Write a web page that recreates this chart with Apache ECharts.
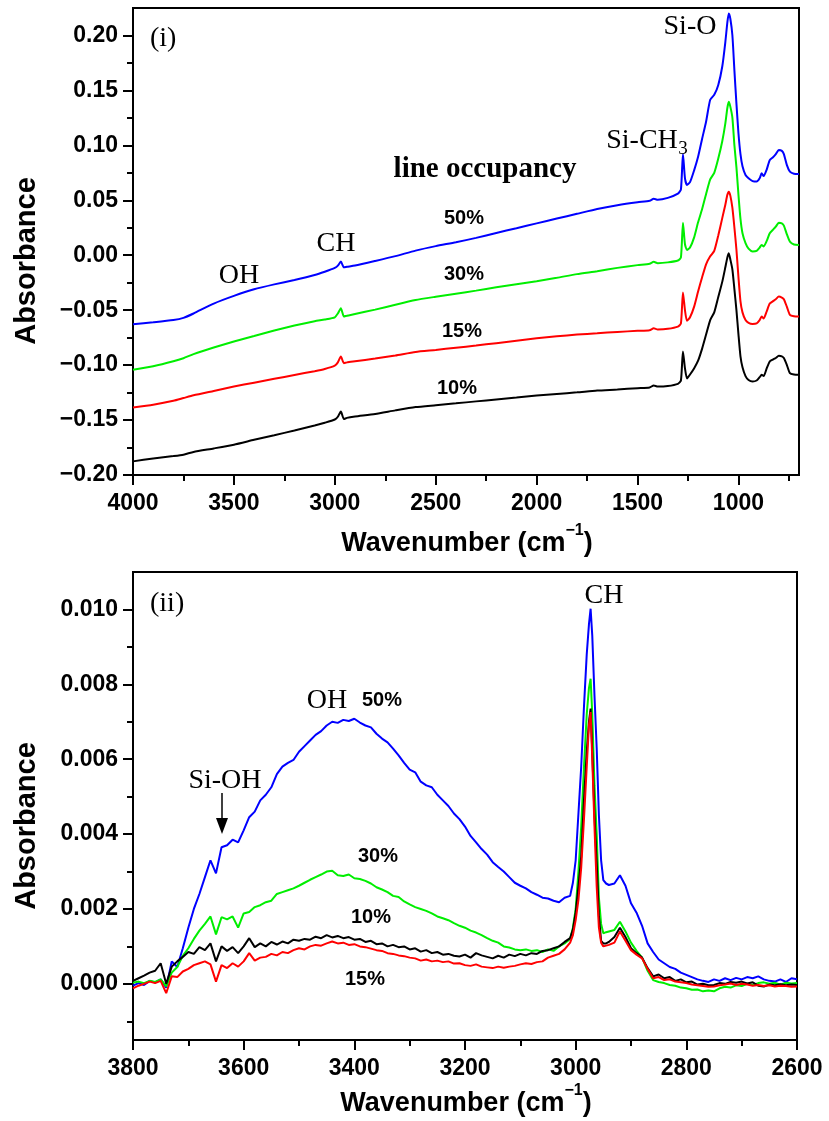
<!DOCTYPE html>
<html>
<head>
<meta charset="utf-8">
<script src="https://cdn.jsdelivr.net/npm/echarts@6/dist/echarts.min.js"></script>
<style>
  html, body { margin: 0; padding: 0; background: #ffffff; }
  #chart { width: 829px; height: 1121px; }
</style>
</head>
<body>
<div id="chart"></div>
<script>
// ---------- (i) full spectra, 4000-700 cm-1 ----------
const waveFull = [
  4000, 3900, 3800, 3750, 3700, 3600, 3500, 3400, 3300, 3200,
  3100, 3050, 3000, 2985, 2970, 2955, 2940, 2900, 2800, 2700,
  2600, 2500, 2400, 2300, 2200, 2100, 2000, 1900, 1800, 1700,
  1600, 1500, 1440, 1420, 1400, 1350, 1300, 1285, 1275, 1265,
  1255, 1240, 1220, 1200, 1180, 1160, 1140, 1120, 1100, 1080,
  1065, 1055, 1048, 1040, 1030, 1020, 1010, 1000, 990, 980,
  965, 950, 930, 910, 895, 885, 875, 860, 845, 830,
  815, 800, 785, 775, 760, 745, 725, 700
];
const full50 = [
  -0.0627, -0.0610, -0.0590, -0.0570, -0.0530, -0.0440, -0.0370, -0.0310, -0.0265, -0.0225,
  -0.0180, -0.0150, -0.0115, -0.0095, -0.0058, -0.0110, -0.0105, -0.0094, -0.0052, -0.0008,
  0.0042, 0.0083, 0.0118, 0.0158, 0.0203, 0.0246, 0.0290, 0.0334, 0.0377, 0.0421,
  0.0455, 0.0482, 0.0495, 0.0515, 0.0505, 0.0522, 0.0560, 0.0600, 0.0921, 0.0700,
  0.0640, 0.0665, 0.0770, 0.0896, 0.1060, 0.1220, 0.1415, 0.1460, 0.1550, 0.1720,
  0.1940, 0.2120, 0.2200, 0.2150, 0.2000, 0.1680, 0.1380, 0.1110, 0.0920, 0.0810,
  0.0730, 0.0700, 0.0675, 0.0670, 0.0700, 0.0745, 0.0720, 0.0780, 0.0866, 0.0890,
  0.0920, 0.0957, 0.0950, 0.0920, 0.0820, 0.0760, 0.0742, 0.0739
];
const full30 = [
  -0.1043, -0.1010, -0.0965, -0.0937, -0.0900, -0.0840, -0.0785, -0.0735, -0.0685, -0.0640,
  -0.0600, -0.0585, -0.0565, -0.0530, -0.0482, -0.0558, -0.0550, -0.0535, -0.0495, -0.0450,
  -0.0408, -0.0378, -0.0350, -0.0322, -0.0292, -0.0264, -0.0236, -0.0205, -0.0172, -0.0145,
  -0.0115, -0.0090, -0.0078, -0.0060, -0.0072, -0.0065, -0.0048, -0.0020, 0.0296, 0.0100,
  0.0048, 0.0070, 0.0160, 0.0300, 0.0420, 0.0560, 0.0690, 0.0750, 0.0880, 0.1040,
  0.1200, 0.1340, 0.1396, 0.1350, 0.1250, 0.1000, 0.0800, 0.0550, 0.0330, 0.0200,
  0.0110, 0.0060, 0.0035, 0.0040, 0.0070, 0.0094, 0.0080, 0.0130, 0.0200, 0.0230,
  0.0260, 0.0296, 0.0290, 0.0270, 0.0190, 0.0124, 0.0098, 0.0094
];
const full15 = [
  -0.1385, -0.1360, -0.1325, -0.1300, -0.1275, -0.1235, -0.1195, -0.1160, -0.1125, -0.1090,
  -0.1055, -0.1035, -0.1005, -0.0975, -0.0922, -0.0982, -0.0975, -0.0965, -0.0940, -0.0912,
  -0.0880, -0.0862, -0.0842, -0.0822, -0.0800, -0.0778, -0.0756, -0.0738, -0.0722, -0.0710,
  -0.0698, -0.0688, -0.0682, -0.0665, -0.0675, -0.0670, -0.0650, -0.0620, -0.0340, -0.0500,
  -0.0597, -0.0565, -0.0470, -0.0330, -0.0200, -0.0080, -0.0010, 0.0040, 0.0180, 0.0340,
  0.0460, 0.0550, 0.0578, 0.0540, 0.0430, 0.0250, 0.0050, -0.0200, -0.0420, -0.0520,
  -0.0590, -0.0615, -0.0625, -0.0620, -0.0590, -0.0558, -0.0575, -0.0510, -0.0440, -0.0420,
  -0.0400, -0.0376, -0.0385, -0.0400, -0.0470, -0.0543, -0.0555, -0.0558
];
const full10 = [
  -0.1876, -0.1850, -0.1828, -0.1815, -0.1790, -0.1758, -0.1724, -0.1680, -0.1638, -0.1595,
  -0.1550, -0.1525, -0.1495, -0.1470, -0.1422, -0.1491, -0.1480, -0.1468, -0.1445, -0.1412,
  -0.1382, -0.1365, -0.1348, -0.1330, -0.1312, -0.1295, -0.1277, -0.1262, -0.1248, -0.1232,
  -0.1222, -0.1210, -0.1203, -0.1185, -0.1195, -0.1190, -0.1170, -0.1140, -0.0876, -0.1030,
  -0.1121, -0.1085, -0.1030, -0.0960, -0.0850, -0.0720, -0.0590, -0.0520, -0.0380, -0.0240,
  -0.0110, -0.0020, 0.0018, -0.0040, -0.0130, -0.0310, -0.0500, -0.0720, -0.0920, -0.1020,
  -0.1100, -0.1135, -0.1149, -0.1140, -0.1110, -0.1088, -0.1100, -0.1030, -0.0967, -0.0950,
  -0.0935, -0.0915, -0.0920, -0.0936, -0.1000, -0.1073, -0.1085, -0.1088
];

// ---------- (ii) OH / CH region, 3800-2600 cm-1 ----------
const waveZoom = [
  3800, 3790, 3780, 3770, 3760, 3750, 3740, 3730, 3720, 3710,
  3700, 3690, 3680, 3670, 3660, 3650, 3640, 3630, 3620, 3610,
  3600, 3590, 3580, 3570, 3560, 3550, 3540, 3530, 3520, 3510,
  3500, 3490, 3480, 3470, 3460, 3450, 3440, 3430, 3420, 3410,
  3400, 3390, 3380, 3370, 3360, 3350, 3340, 3330, 3320, 3310,
  3300, 3290, 3280, 3270, 3260, 3250, 3240, 3230, 3220, 3210,
  3200, 3190, 3180, 3170, 3160, 3150, 3140, 3130, 3120, 3110,
  3100, 3090, 3080, 3070, 3060, 3050, 3040, 3030, 3020, 3010,
  3005, 3000, 2995, 2990, 2985, 2980, 2976, 2973, 2970, 2966,
  2962, 2958, 2954, 2950, 2945, 2940, 2930, 2920, 2910, 2900,
  2890, 2880, 2870, 2860, 2850, 2840, 2830, 2820, 2810, 2800,
  2790, 2780, 2770, 2760, 2750, 2740, 2730, 2720, 2710, 2700,
  2690, 2680, 2670, 2660, 2650, 2640, 2630, 2620, 2610, 2600
];
const zoom50 = [
  -0.00005, 0.00002, -0.00003, 0.00008, 0.00004, 0.00012, -0.00010, 0.00060, 0.00045, 0.00095,
  0.00150, 0.00200, 0.00240, 0.00285, 0.00330, 0.00295, 0.00365, 0.00370, 0.00385, 0.00378,
  0.00410, 0.00445, 0.00460, 0.00490, 0.00505, 0.00525, 0.00560, 0.00580, 0.00590, 0.00598,
  0.00620, 0.00635, 0.00650, 0.00665, 0.00675, 0.00690, 0.00700, 0.00697, 0.00705, 0.00702,
  0.00708, 0.00698, 0.00690, 0.00685, 0.00668, 0.00655, 0.00645, 0.00628, 0.00610, 0.00590,
  0.00572, 0.00565, 0.00540, 0.00530, 0.00525, 0.00505, 0.00490, 0.00475, 0.00455, 0.00440,
  0.00420, 0.00395, 0.00378, 0.00360, 0.00345, 0.00325, 0.00312, 0.00300, 0.00285, 0.00270,
  0.00262, 0.00255, 0.00245, 0.00238, 0.00230, 0.00228, 0.00222, 0.00218, 0.00230, 0.00235,
  0.00270, 0.00330, 0.00455, 0.00580, 0.00740, 0.00880, 0.00960, 0.01002, 0.00930, 0.00770,
  0.00630, 0.00450, 0.00330, 0.00277, 0.00268, 0.00264, 0.00268, 0.00290, 0.00262, 0.00215,
  0.00190, 0.00155, 0.00108, 0.00085, 0.00065, 0.00055, 0.00045, 0.00040, 0.00030, 0.00024,
  0.00018, 0.00012, 0.00008, 0.00005, 0.00012, 0.00008, 0.00015, 0.00010, 0.00016, 0.00012,
  0.00018, 0.00015, 0.00020, 0.00012, 0.00008, 0.00006, 0.00012, 0.00005, 0.00015, 0.00012
];
const zoom30 = [
  0.00003, 0.00006, 0.00002, 0.00008, 0.00005, 0.00012, -0.00007, 0.00030, 0.00045, 0.00075,
  0.00095, 0.00120, 0.00142, 0.00160, 0.00180, 0.00132, 0.00178, 0.00172, 0.00180, 0.00150,
  0.00188, 0.00192, 0.00205, 0.00210, 0.00218, 0.00222, 0.00240, 0.00245, 0.00250, 0.00255,
  0.00262, 0.00270, 0.00278, 0.00285, 0.00292, 0.00300, 0.00302, 0.00290, 0.00288, 0.00292,
  0.00282, 0.00280, 0.00275, 0.00268, 0.00258, 0.00252, 0.00245, 0.00235, 0.00232, 0.00220,
  0.00212, 0.00205, 0.00200, 0.00195, 0.00188, 0.00180, 0.00175, 0.00170, 0.00162, 0.00155,
  0.00150, 0.00142, 0.00137, 0.00130, 0.00122, 0.00115, 0.00110, 0.00100, 0.00097, 0.00092,
  0.00090, 0.00092, 0.00088, 0.00090, 0.00085, 0.00092, 0.00088, 0.00100, 0.00108, 0.00120,
  0.00150, 0.00200, 0.00300, 0.00420, 0.00580, 0.00720, 0.00790, 0.00815, 0.00720, 0.00530,
  0.00400, 0.00230, 0.00160, 0.00135, 0.00138, 0.00140, 0.00144, 0.00166, 0.00140, 0.00110,
  0.00088, 0.00070, 0.00035, 0.00010, 0.00005, 0.00002, -0.00003, -0.00005, -0.00010, -0.00012,
  -0.00016, -0.00015, -0.00020, -0.00018, -0.00020, -0.00012, -0.00008, -0.00010, -0.00004, -0.00006,
  0.00000, -0.00003, 0.00002, 0.00004, 0.00000, 0.00003, -0.00002, 0.00003, 0.00001, 0.00002
];
const zoom10 = [
  0.00008, 0.00015, 0.00022, 0.00030, 0.00035, 0.00055, 0.00000, 0.00046, 0.00060, 0.00072,
  0.00085, 0.00080, 0.00098, 0.00090, 0.00108, 0.00060, 0.00100, 0.00088, 0.00098, 0.00082,
  0.00100, 0.00122, 0.00098, 0.00108, 0.00100, 0.00112, 0.00105, 0.00113, 0.00108, 0.00118,
  0.00115, 0.00120, 0.00118, 0.00126, 0.00122, 0.00130, 0.00124, 0.00128, 0.00122, 0.00125,
  0.00118, 0.00120, 0.00112, 0.00115, 0.00106, 0.00108, 0.00100, 0.00104, 0.00098, 0.00100,
  0.00092, 0.00095, 0.00086, 0.00090, 0.00082, 0.00085, 0.00078, 0.00080, 0.00075, 0.00073,
  0.00078, 0.00070, 0.00082, 0.00076, 0.00072, 0.00068, 0.00075, 0.00070, 0.00078, 0.00074,
  0.00080, 0.00076, 0.00082, 0.00080, 0.00088, 0.00090, 0.00095, 0.00100, 0.00112, 0.00122,
  0.00145, 0.00190, 0.00260, 0.00340, 0.00490, 0.00620, 0.00700, 0.00735, 0.00620, 0.00450,
  0.00322, 0.00180, 0.00115, 0.00108, 0.00108, 0.00112, 0.00125, 0.00150, 0.00125, 0.00095,
  0.00082, 0.00070, 0.00042, 0.00020, 0.00025, 0.00015, 0.00018, 0.00008, 0.00012, 0.00004,
  0.00006, -0.00002, 0.00000, -0.00004, -0.00003, 0.00002, 0.00000, 0.00005, 0.00003, 0.00006,
  0.00001, 0.00004, -0.00005, -0.00007, -0.00002, -0.00004, -0.00001, -0.00004, -0.00002, -0.00003
];
const zoom15 = [
  -0.00012, -0.00005, 0.00000, 0.00006, 0.00002, 0.00008, -0.00025, 0.00020, 0.00018, 0.00033,
  0.00040, 0.00050, 0.00055, 0.00060, 0.00052, 0.00006, 0.00050, 0.00042, 0.00055, 0.00046,
  0.00060, 0.00082, 0.00062, 0.00070, 0.00072, 0.00080, 0.00076, 0.00085, 0.00082, 0.00090,
  0.00095, 0.00092, 0.00100, 0.00104, 0.00102, 0.00108, 0.00113, 0.00108, 0.00110, 0.00104,
  0.00106, 0.00100, 0.00098, 0.00094, 0.00090, 0.00088, 0.00082, 0.00080, 0.00076, 0.00074,
  0.00070, 0.00068, 0.00062, 0.00065, 0.00060, 0.00062, 0.00058, 0.00060, 0.00054, 0.00055,
  0.00050, 0.00048, 0.00052, 0.00046, 0.00044, 0.00042, 0.00046, 0.00043, 0.00046, 0.00048,
  0.00052, 0.00055, 0.00053, 0.00058, 0.00060, 0.00070, 0.00075, 0.00080, 0.00092, 0.00110,
  0.00130, 0.00170, 0.00224, 0.00310, 0.00440, 0.00580, 0.00690, 0.00726, 0.00600, 0.00420,
  0.00260, 0.00150, 0.00110, 0.00100, 0.00102, 0.00104, 0.00110, 0.00140, 0.00115, 0.00090,
  0.00078, 0.00068, 0.00040, 0.00015, 0.00018, 0.00010, 0.00012, 0.00006, 0.00004, 0.00002,
  -0.00002, -0.00004, -0.00006, -0.00008, -0.00007, -0.00004, -0.00002, 0.00001, -0.00003, 0.00000,
  -0.00002, -0.00005, -0.00003, -0.00006, -0.00004, -0.00007, -0.00005, -0.00006, -0.00008, -0.00007
];

// ---------- tick positions ----------
const fullXMajor = [4000, 3500, 3000, 2500, 2000, 1500, 1000];
const fullXMinor = [3750, 3250, 2750, 2250, 1750, 1250, 750];
const fullYMajor = [-0.20, -0.15, -0.10, -0.05, 0.00, 0.05, 0.10, 0.15, 0.20];
const fullYMinor = [-0.175, -0.125, -0.075, -0.025, 0.025, 0.075, 0.125, 0.175];
const zoomXMajor = [3800, 3600, 3400, 3200, 3000, 2800, 2600];
const zoomXMinor = [3700, 3500, 3300, 3100, 2900, 2700];
const zoomYMajor = [0.000, 0.002, 0.004, 0.006, 0.008, 0.010];
const zoomYMinor = [-0.001, 0.001, 0.003, 0.005, 0.007, 0.009];

const COLORS = { c50: '#0000ff', c30: '#00ee00', c15: '#ff0000', c10: '#000000' };
const SANS = '"Liberation Sans", Arial, sans-serif';
const SERIF = '"Liberation Serif", "Times New Roman", serif';

const pairs = (xs, ys) => xs.map((x, i) => [x, ys[i]]);

function xAxisPair(gridIndex, min, max, major, minor, fmt) {
  const base = { type: 'value', gridIndex, min, max, inverse: true, position: 'bottom', splitLine: { show: false } };
  return [
    Object.assign({}, base, {
      axisLine: { show: true, onZero: false, lineStyle: { color: '#000', width: 2 } },
      axisTick: { show: true, length: 10, customValues: major, lineStyle: { color: '#000', width: 2 } },
      axisLabel: { customValues: major, margin: 17, color: '#000', fontFamily: SANS, fontWeight: 'bold', fontSize: 23, formatter: fmt }
    }),
    Object.assign({}, base, {
      axisLine: { show: false, onZero: false },
      axisTick: { show: true, length: 6, customValues: minor, lineStyle: { color: '#000', width: 2 } },
      axisLabel: { show: false }
    })
  ];
}
function yAxisPair(gridIndex, min, max, major, minor, fmt) {
  const base = { type: 'value', gridIndex, min, max, position: 'left', splitLine: { show: false } };
  return [
    Object.assign({}, base, {
      axisLine: { show: true, onZero: false, lineStyle: { color: '#000', width: 2 } },
      axisTick: { show: true, length: 10, customValues: major, lineStyle: { color: '#000', width: 2 } },
      axisLabel: { customValues: major, margin: 15, color: '#000', fontFamily: SANS, fontWeight: 'bold', fontSize: 23, formatter: fmt }
    }),
    Object.assign({}, base, {
      axisLine: { show: false, onZero: false },
      axisTick: { show: true, length: 6, customValues: minor, lineStyle: { color: '#000', width: 2 } },
      axisLabel: { show: false }
    })
  ];
}
const minusFmt = (d) => (v) => (v < 0 ? '\u2212' + Math.abs(v).toFixed(d) : v.toFixed(d));

function spectrum(name, xs, ys, color, axisIdx, smooth) {
  return {
    name, type: 'line', xAxisIndex: axisIdx, yAxisIndex: axisIdx,
    data: pairs(xs, ys), showSymbol: false, symbol: 'none', smooth: smooth,
    lineStyle: { color, width: 2 }, silent: true, animation: false
  };
}

function label(text, x, y, opts) {
  return {
    type: 'text', x, y, z: 100,
    style: Object.assign({ text, fill: '#000', align: 'center', verticalAlign: 'middle' }, opts)
  };
}
const serifLbl = (t, x, y, extra) => label(t, x, y, Object.assign({ fontFamily: SERIF, fontSize: 28 }, extra || {}));
const pctLbl = (t, x, y) => label(t, x, y, { fontFamily: SANS, fontWeight: 'bold', fontSize: 20 });
const axisNameRich = {
  n: { fontFamily: SANS, fontWeight: 'bold', fontSize: 27, fill: '#000', lineHeight: 34, verticalAlign: 'bottom' },
  s: { fontFamily: SANS, fontWeight: 'bold', fontSize: 16, fill: '#000', lineHeight: 34, verticalAlign: 'top' }
};

const xa = xAxisPair(0, 700, 4000, fullXMajor, fullXMinor, (v) => String(v))
  .concat(xAxisPair(1, 2600, 3800, zoomXMajor, zoomXMinor, (v) => String(v)));
const ya = yAxisPair(0, -0.2, 0.225, fullYMajor, fullYMinor, minusFmt(2))
  .concat(yAxisPair(1, -0.0015, 0.011, zoomYMajor, zoomYMinor, minusFmt(3)));

const option = {
  backgroundColor: '#ffffff',
  animation: false,
  grid: [
    { left: 133, right: 30, top: 8, height: 467, show: true, borderColor: '#000', borderWidth: 2, backgroundColor: 'transparent' },
    { left: 133, right: 32, top: 572, height: 468, show: true, borderColor: '#000', borderWidth: 2, backgroundColor: 'transparent' }
  ],
  xAxis: xa,
  yAxis: ya,
  series: [
    spectrum('50%', waveFull, full50, COLORS.c50, 0, 0.2),
    spectrum('30%', waveFull, full30, COLORS.c30, 0, 0.2),
    spectrum('15%', waveFull, full15, COLORS.c15, 0, 0.2),
    spectrum('10%', waveFull, full10, COLORS.c10, 0, 0.2),
    spectrum('50%', waveZoom, zoom50, COLORS.c50, 2, false),
    spectrum('30%', waveZoom, zoom30, COLORS.c30, 2, false),
    spectrum('10%', waveZoom, zoom10, COLORS.c10, 2, false),
    spectrum('15%', waveZoom, zoom15, COLORS.c15, 2, false)
  ],
  graphic: [
    // axis titles
    label('Absorbance', 27, 261, { fontFamily: SANS, fontWeight: 'bold', fontSize: 29 }),
    label('Absorbance', 27, 826, { fontFamily: SANS, fontWeight: 'bold', fontSize: 29 }),
    { type: 'text', x: 467, y: 540, z: 100, style: { text: '{n|Wavenumber (cm}{s|\u22121}{n|)}', rich: axisNameRich, align: 'center', verticalAlign: 'middle' } },
    { type: 'text', x: 466, y: 1100, z: 100, style: { text: '{n|Wavenumber (cm}{s|\u22121}{n|)}', rich: axisNameRich, align: 'center', verticalAlign: 'middle' } },
    // panel (i) annotations
    label('(i)', 150, 39, { fontFamily: SERIF, fontSize: 28, align: 'left' }),
    serifLbl('OH', 239, 276),
    serifLbl('CH', 336, 244),
    serifLbl('Si-O', 690, 27),
    label('Si-CH', 642, 141, { fontFamily: SERIF, fontSize: 28 }),
    label('3', 683, 149, { fontFamily: SERIF, fontSize: 19 }),
    label('line occupancy', 485, 170, { fontFamily: SERIF, fontSize: 29, fontWeight: 'bold' }),
    pctLbl('50%', 464, 218),
    pctLbl('30%', 464, 274),
    pctLbl('15%', 462, 331),
    pctLbl('10%', 457, 388),
    // panel (ii) annotations
    label('(ii)', 150, 604, { fontFamily: SERIF, fontSize: 28, align: 'left' }),
    serifLbl('CH', 604, 596),
    serifLbl('OH', 327, 701),
    pctLbl('50%', 382, 700),
    serifLbl('Si-OH', 225, 781),
    { type: 'line', z: 100, shape: { x1: 222, y1: 793, x2: 222, y2: 822 }, style: { stroke: '#000', lineWidth: 1.5 } },
    { type: 'polygon', z: 100, shape: { points: [[216, 818], [228, 818], [222, 834]] }, style: { fill: '#000' } },
    pctLbl('30%', 378, 856),
    pctLbl('10%', 371, 917),
    pctLbl('15%', 365, 979)
  ]
};
// rotate the vertical axis titles to read bottom-to-top
option.graphic[0].rotation = Math.PI / 2;
option.graphic[1].rotation = Math.PI / 2;

const chart = echarts.init(document.getElementById('chart'), null, { renderer: 'canvas' });
chart.setOption(option);
</script>
</body>
</html>
